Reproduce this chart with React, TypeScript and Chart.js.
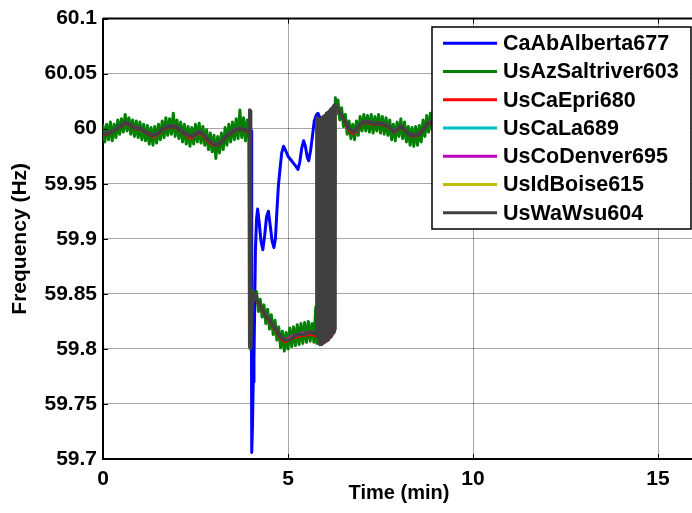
import React, { useEffect, useRef } from "react";
import { Chart, registerables } from "chart.js";

Chart.register(...registerables);

const seriesNames = [
  "CaAbAlberta677",
  "UsAzSaltriver603",
  "UsCaEpri680",
  "UsCaLa689",
  "UsCoDenver695",
  "UsIdBoise615",
  "UsWaWsu604",
];
const seriesColors = ["#0000ff", "#008000", "#ff0000", "#00bfbf", "#bf00bf", "#bfbf00", "#404040"];
const seriesWidths = [3, 3, 2, 2, 2, 2, 3.5];

const xTickValues = [0, 5, 10, 15];
const yTickValues = [59.7, 59.75, 59.8, 59.85, 59.9, 59.95, 60, 60.05, 60.1];
const yTickLabels = ["59.7", "59.75", "59.8", "59.85", "59.9", "59.95", "60", "60.05", "60.1"];

// CaAbAlberta677
const timeAlberta = [
  0, 0.2, 0.4, 0.6, 0.8, 1, 1.2, 1.4, 1.6, 1.8, 2, 2.2, 2.4, 2.6, 2.8, 3, 3.2, 3.4, 3.6, 3.8, 3.95,
  4, 4.02, 4.04, 4.06, 4.08, 4.1, 4.12, 4.15, 4.18, 4.22, 4.27, 4.32, 4.37, 4.42, 4.47, 4.52, 4.57, 4.62, 4.66, 4.7,
  4.74, 4.78, 4.83, 4.88, 4.94, 5, 5.07, 5.14, 5.21, 5.27, 5.32, 5.37, 5.42, 5.47, 5.52, 5.56, 5.61, 5.66, 5.71, 5.76,
  5.81, 5.86, 5.95, 6.05, 6.15, 6.25,
  6.3, 6.45, 6.6, 6.8, 7, 7.3, 7.6, 7.9, 8.2, 8.5, 8.8, 9.2, 10,
];
const albertaFreq = [
  59.996, 59.997, 60.001, 60.005, 60.002, 60.0, 59.996, 59.994, 59.999, 60.002, 60.001, 59.996, 59.993, 59.997, 59.991, 59.986, 59.988, 59.995, 59.999, 59.999, 59.998,
  59.998, 59.706, 59.73, 59.77, 59.79, 59.84, 59.89, 59.918, 59.927, 59.915, 59.898, 59.89, 59.903, 59.92, 59.925, 59.912, 59.898, 59.892, 59.9, 59.925,
  59.948, 59.962, 59.978, 59.984, 59.98, 59.975, 59.972, 59.969, 59.966, 59.963, 59.97, 59.982, 59.989, 59.984, 59.974, 59.971, 59.98, 59.993, 60.007, 60.012,
  60.014, 60.01, 60.01, 60.013, 60.016, 60.02,
  60.02, 60.012, 60.003, 59.997, 60.004, 60.005, 60.004, 59.998, 59.998, 59.994, 60.005, 60.003, 60.0,
];

// UsAzSaltriver603
const timeSaltriver = [
  0, 0.05, 0.1, 0.15, 0.2, 0.25, 0.3, 0.35, 0.4, 0.45, 0.5, 0.55, 0.6, 0.65, 0.7, 0.75, 0.8, 0.85, 0.9, 0.95,
  1, 1.05, 1.1, 1.15, 1.2, 1.25, 1.3, 1.35, 1.4, 1.45, 1.5, 1.55, 1.6, 1.65, 1.7, 1.75, 1.8, 1.85, 1.9, 1.95,
  2, 2.05, 2.1, 2.15, 2.2, 2.25, 2.3, 2.35, 2.4, 2.45, 2.5, 2.55, 2.6, 2.65, 2.7, 2.75, 2.8, 2.85, 2.9, 2.95,
  3, 3.05, 3.1, 3.15, 3.2, 3.25, 3.3, 3.35, 3.4, 3.45, 3.5, 3.55, 3.6, 3.65, 3.7, 3.75, 3.8, 3.85, 3.9, 3.95,
  3.98, 4.02, 4.05,
  4.1, 4.15, 4.2, 4.25, 4.3, 4.35, 4.4, 4.45, 4.5, 4.55, 4.6, 4.65, 4.7, 4.75, 4.8, 4.85, 4.9, 4.95,
  5, 5.05, 5.1, 5.15, 5.2, 5.25, 5.3, 5.35, 5.4, 5.45, 5.5, 5.55, 5.6, 5.65, 5.7, 5.75,
  5.78, 5.85, 6, 6.15, 6.26, 6.28,
  6.3, 6.35, 6.4, 6.45, 6.5, 6.55, 6.6, 6.65, 6.7, 6.75, 6.8, 6.85, 6.9, 6.95,
  7, 7.05, 7.1, 7.15, 7.2, 7.25, 7.3, 7.35, 7.4, 7.45, 7.5, 7.55, 7.6, 7.65, 7.7, 7.75, 7.8, 7.85, 7.9, 7.95,
  8, 8.05, 8.1, 8.15, 8.2, 8.25, 8.3, 8.35, 8.4, 8.45, 8.5, 8.55, 8.6, 8.65, 8.7, 8.75, 8.8, 8.85, 8.9, 8.95, 9,
  9.5, 10,
];
const saltriverFreq = [
  60.003, 59.988, 60.004, 59.99, 60.006, 59.989, 60.004, 59.992, 60.008, 59.995, 60.009, 59.997, 60.013, 59.998, 60.01, 59.995, 60.008, 59.993, 60.007, 59.992,
  60.006, 59.99, 60.004, 59.989, 60.003, 59.986, 60.001, 59.985, 60.002, 59.987, 60.004, 59.99, 60.007, 59.992, 60.01, 59.994, 60.009, 59.995, 60.014, 59.993,
  60.008, 59.991, 60.006, 59.988, 60.004, 59.986, 60.002, 59.984, 60.001, 59.986, 60.004, 59.988, 60.005, 59.987, 60.002, 59.985, 59.999, 59.981, 59.996, 59.979,
  59.994, 59.973, 59.993, 59.978, 59.996, 59.981, 60.001, 59.985, 60.004, 59.988, 60.006, 59.99, 60.009, 59.991, 60.017, 59.992, 60.01, 59.989, 60.008, 59.99,
  59.8, 59.84, 59.853,
  59.845, 59.852, 59.834, 59.845, 59.829, 59.84, 59.823, 59.836, 59.818, 59.831, 59.813, 59.826, 59.808, 59.82, 59.801, 59.816, 59.798, 59.815,
  59.8, 59.819, 59.802, 59.82, 59.803, 59.822, 59.804, 59.823, 59.805, 59.824, 59.806, 59.825, 59.807, 59.823, 59.806, 59.838,
  59.805, 59.806, 59.808, 59.812, 59.816, 60.028,
  60.013, 60.026, 60.008, 60.019, 60.002, 60.013, 59.995, 60.007, 59.991, 60.004, 59.99, 60.007, 59.994, 60.011,
  59.998, 60.013, 59.998, 60.012, 59.997, 60.013, 59.996, 60.011, 59.998, 60.013, 59.996, 60.011, 59.995, 60.01, 59.994, 60.008, 59.99, 60.004, 59.989, 60.006,
  59.993, 60.009, 59.991, 60.006, 59.988, 60.002, 59.985, 60.001, 59.984, 60.002, 59.985, 60.003, 59.988, 60.008, 59.993, 60.012, 59.997, 60.014, 59.999, 60.012, 59.998,
  60.006, 59.996,
];

// shared time base of the smoother stations
const timeSmooth = [
  0, 0.1, 0.2, 0.3, 0.4, 0.5, 0.6, 0.7, 0.8, 0.9, 1, 1.1, 1.2, 1.3, 1.4, 1.5, 1.6, 1.7, 1.8, 1.9,
  2, 2.1, 2.2, 2.3, 2.4, 2.5, 2.6, 2.7, 2.8, 2.9, 3, 3.1, 3.2, 3.3, 3.4, 3.5, 3.6, 3.7, 3.8, 3.9,
  3.96, 3.98, 4.02, 4.06,
  4.1, 4.2, 4.3, 4.4, 4.5, 4.6, 4.7, 4.8, 4.9, 5, 5.1, 5.2, 5.3, 5.4, 5.5, 5.6, 5.7, 5.8,
  5.9, 6, 6.1, 6.2, 6.26,
  6.28, 6.35, 6.45, 6.55, 6.65, 6.75, 6.85, 6.95, 7.05, 7.15, 7.25, 7.35, 7.45, 7.55, 7.65, 7.75, 7.85, 7.95, 8.05, 8.15,
  8.25, 8.35, 8.45, 8.55, 8.65, 8.75, 8.85,
  9, 9.3, 9.6, 10,
];

// UsCaEpri680
const epriFreq = [
  59.995, 59.994, 59.996, 59.998, 60.0, 60.002, 60.004, 60.003, 60.001, 59.999, 59.999, 59.997, 59.995, 59.993, 59.992, 59.995, 59.998, 60.0, 60.001, 60.001,
  60.0, 59.997, 59.995, 59.992, 59.991, 59.994, 59.996, 59.993, 59.989, 59.986, 59.985, 59.984, 59.987, 59.991, 59.994, 59.996, 59.998, 59.999, 59.998, 59.997,
  59.998, 59.801, 59.834, 59.848,
  59.849, 59.84, 59.834, 59.829, 59.824, 59.819, 59.814, 59.809, 59.806, 59.807, 59.809, 59.81, 59.811, 59.812, 59.812, 59.813, 59.812, 59.811,
  59.804, 59.806, 59.808, 59.812, 59.816,
  60.02, 60.017, 60.011, 60.004, 59.998, 59.995, 59.997, 60.003, 60.005, 60.005, 60.004, 60.003, 60.004, 60.003, 60.002, 60.0, 59.996, 59.998, 60.001, 59.998,
  59.994, 59.993, 59.993, 59.994, 59.998, 60.003, 60.005,
  60.004, 60.002, 60.0, 59.999,
];

// UsCaLa689
const laFreq = [
  59.996, 59.995, 59.997, 59.998, 60.001, 60.003, 60.005, 60.004, 60.002, 60.0, 60.0, 59.998, 59.996, 59.994, 59.993, 59.996, 59.999, 60.001, 60.002, 60.002,
  60.001, 59.998, 59.996, 59.994, 59.993, 59.995, 59.997, 59.995, 59.991, 59.988, 59.986, 59.985, 59.988, 59.992, 59.995, 59.997, 59.999, 60.0, 59.999, 59.998,
  59.999, 59.802, 59.835, 59.849,
  59.85, 59.841, 59.836, 59.831, 59.826, 59.821, 59.816, 59.811, 59.808, 59.809, 59.811, 59.812, 59.813, 59.814, 59.814, 59.815, 59.814, 59.813,
  59.806, 59.808, 59.81, 59.814, 59.818,
  60.021, 60.018, 60.012, 60.006, 60.0, 59.997, 59.999, 60.004, 60.006, 60.006, 60.005, 60.004, 60.005, 60.004, 60.003, 60.001, 59.997, 59.999, 60.002, 59.999,
  59.995, 59.994, 59.994, 59.995, 59.999, 60.004, 60.006,
  60.005, 60.002, 60.001, 60.0,
];

// UsCoDenver695
const denverFreq = [
  59.997, 59.996, 59.998, 59.999, 60.002, 60.004, 60.006, 60.005, 60.003, 60.001, 60.001, 59.999, 59.997, 59.995, 59.995, 59.997, 60.0, 60.002, 60.003, 60.003,
  60.002, 59.999, 59.997, 59.995, 59.994, 59.996, 59.998, 59.996, 59.992, 59.989, 59.987, 59.986, 59.989, 59.993, 59.996, 59.998, 60.0, 60.001, 60.0, 59.999,
  60.0, 59.803, 59.836, 59.85,
  59.851, 59.842, 59.837, 59.832, 59.827, 59.822, 59.817, 59.812, 59.809, 59.81, 59.812, 59.813, 59.814, 59.815, 59.815, 59.816, 59.815, 59.814,
  59.807, 59.809, 59.811, 59.815, 59.819,
  60.022, 60.019, 60.013, 60.007, 60.001, 59.998, 60.0, 60.005, 60.007, 60.007, 60.006, 60.005, 60.006, 60.005, 60.004, 60.002, 59.998, 60.0, 60.003, 60.0,
  59.996, 59.995, 59.995, 59.996, 60.0, 60.005, 60.007,
  60.006, 60.003, 60.002, 60.001,
];

// UsIdBoise615
const boiseFreq = [
  59.996, 59.996, 59.997, 59.999, 60.001, 60.003, 60.004, 60.004, 60.002, 60.0, 60.0, 59.998, 59.996, 59.994, 59.994, 59.996, 59.999, 60.001, 60.002, 60.002,
  60.001, 59.998, 59.996, 59.994, 59.993, 59.995, 59.997, 59.995, 59.991, 59.988, 59.986, 59.985, 59.988, 59.992, 59.995, 59.997, 59.999, 60.0, 59.999, 59.998,
  59.999, 59.802, 59.835, 59.849,
  59.85, 59.841, 59.836, 59.831, 59.826, 59.821, 59.816, 59.811, 59.808, 59.809, 59.811, 59.812, 59.813, 59.814, 59.814, 59.815, 59.814, 59.813,
  59.806, 59.808, 59.81, 59.814, 59.818,
  60.021, 60.018, 60.012, 60.006, 60.0, 59.997, 59.999, 60.004, 60.006, 60.006, 60.005, 60.004, 60.005, 60.004, 60.003, 60.001, 59.997, 59.999, 60.002, 59.999,
  59.995, 59.994, 59.994, 59.995, 59.999, 60.004, 60.006,
  60.005, 60.002, 60.001, 60.0,
];

// UsWaWsu604
const timeWsu = [
  0, 0.1, 0.2, 0.3, 0.4, 0.5, 0.6, 0.7, 0.8, 0.9, 1, 1.1, 1.2, 1.3, 1.4, 1.5, 1.6, 1.7, 1.8, 1.9,
  2, 2.1, 2.2, 2.3, 2.4, 2.5, 2.6, 2.7, 2.8, 2.9, 3, 3.1, 3.2, 3.3, 3.4, 3.5, 3.6, 3.7, 3.8, 3.9,
  3.95, 3.96, 3.97, 3.98, 3.99, 4.02, 4.06, 4.09,
  4.2, 4.3, 4.4, 4.5, 4.6, 4.7, 4.8, 4.9, 5, 5.1, 5.2, 5.3, 5.4, 5.5, 5.6, 5.7,
  5.76, 5.78, 5.8,
  5.84, 5.86, 5.88, 5.9, 5.92, 5.94, 5.96, 5.98, 6, 6.02, 6.04, 6.06, 6.08, 6.1, 6.12, 6.14, 6.16, 6.18, 6.2, 6.22, 6.24, 6.26, 6.27,
  6.28, 6.35, 6.45, 6.55, 6.65, 6.75, 6.85, 6.95, 7.05, 7.15, 7.25, 7.35, 7.45, 7.55, 7.65, 7.75, 7.85, 7.95, 8.05, 8.15,
  8.25, 8.35, 8.45, 8.55, 8.65, 8.75, 8.85,
  9, 9.3, 9.6, 10,
];
const wsuFreq = [
  59.996, 59.995, 59.997, 59.998, 60.001, 60.003, 60.005, 60.004, 60.002, 60.0, 60.0, 59.998, 59.996, 59.994, 59.994, 59.996, 59.999, 60.001, 60.002, 60.002,
  60.001, 59.998, 59.996, 59.994, 59.993, 59.995, 59.997, 59.995, 59.991, 59.988, 59.986, 59.985, 59.988, 59.992, 59.995, 59.997, 59.999, 60.0, 59.999, 59.998,
  59.999, 60.017, 59.802, 60.016, 59.801, 59.832, 59.848, 59.851,
  59.842, 59.836, 59.83, 59.826, 59.821, 59.816, 59.811, 59.808, 59.808, 59.81, 59.812, 59.813, 59.813, 59.814, 59.815, 59.814,
  59.814, 60.01, 59.811,
  60.008, 59.804, 60.009, 59.804, 60.01, 59.805, 60.011, 59.806, 60.012, 59.807, 60.014, 59.808, 60.015, 59.81, 60.016, 59.811, 60.018, 59.813, 60.019, 59.815, 60.021, 59.818, 60.022,
  60.021, 60.018, 60.012, 60.006, 60.0, 59.997, 59.999, 60.004, 60.006, 60.006, 60.005, 60.004, 60.005, 60.004, 60.003, 60.001, 59.997, 59.999, 60.002, 59.999,
  59.995, 59.994, 59.994, 59.995, 59.999, 60.004, 60.006,
  60.005, 60.002, 60.001, 60.0,
];

const seriesTimes = [timeAlberta, timeSaltriver, timeSmooth, timeSmooth, timeSmooth, timeSmooth, timeWsu];
const seriesValues = [albertaFreq, saltriverFreq, epriFreq, laFreq, denverFreq, boiseFreq, wsuFreq];

const FONT = "Arial, 'Liberation Sans', Helvetica, sans-serif";

function zip(t: number[], v: number[]) {
  const n = Math.min(t.length, v.length);
  const out: { x: number; y: number }[] = [];
  for (let i = 0; i < n; i++) out.push({ x: t[i], y: v[i] });
  return out;
}

const framePlugin = {
  id: "frameAndLegend",
  afterDraw(chart: any) {
    const { ctx, chartArea, scales } = chart;
    ctx.save();
    // top border of the axes box
    ctx.strokeStyle = "#000";
    ctx.lineWidth = 2;
    ctx.beginPath();
    ctx.moveTo(chartArea.left, chartArea.top);
    ctx.lineTo(chartArea.right, chartArea.top);
    ctx.stroke();

    // small inward tick marks
    ctx.lineWidth = 1;
    ctx.beginPath();
    xTickValues.forEach((v) => {
      const px = Math.round(scales.x.getPixelForValue(v)) + 0.5;
      ctx.moveTo(px, chartArea.top);
      ctx.lineTo(px, chartArea.top + 5);
      ctx.moveTo(px, chartArea.bottom);
      ctx.lineTo(px, chartArea.bottom - 5);
    });
    yTickValues.forEach((v) => {
      const py = Math.round(scales.y.getPixelForValue(v)) + 0.5;
      ctx.moveTo(chartArea.left, py);
      ctx.lineTo(chartArea.left + 5, py);
    });
    ctx.stroke();

    // legend box
    const left = 432, top = 27, right = 691, bottom = 229;
    ctx.fillStyle = "#ffffff";
    ctx.fillRect(left, top, right - left, bottom - top);
    ctx.lineWidth = 1.5;
    ctx.strokeStyle = "#000";
    ctx.strokeRect(left, top, right - left, bottom - top);
    ctx.font = `bold 21.5px ${FONT}`;
    ctx.textBaseline = "middle";
    ctx.textAlign = "left";
    chart.data.datasets.forEach((ds: any, i: number) => {
      const y = 43.3 + i * 28.25;
      ctx.strokeStyle = ds.borderColor;
      ctx.lineWidth = 3;
      ctx.beginPath();
      ctx.moveTo(443, y);
      ctx.lineTo(497, y);
      ctx.stroke();
      ctx.fillStyle = "#000";
      ctx.fillText(ds.label, 503, y + 1);
    });
    ctx.restore();
  },
};

export default function App() {
  const canvasRef = useRef<HTMLCanvasElement | null>(null);

  useEffect(() => {
    if (!canvasRef.current) return;
    const datasets = seriesNames.map((name, i) => ({
      label: name,
      data: zip(seriesTimes[i], seriesValues[i]),
      borderColor: seriesColors[i],
      backgroundColor: seriesColors[i],
      borderWidth: seriesWidths[i],
      pointRadius: 0,
      tension: 0,
      fill: false,
      borderJoinStyle: "round" as const,
      borderCapStyle: "round" as const,
      order: seriesNames.length - i,
    }));

    const chart = new Chart(canvasRef.current, {
      type: "line",
      data: { datasets },
      options: {
        animation: false,
        responsive: false,
        parsing: false as any,
        layout: { padding: { top: 18, right: 5, left: 0, bottom: 0 } },
        plugins: { legend: { display: false }, tooltip: { enabled: false } },
        scales: {
          x: {
            type: "linear",
            min: 0,
            max: 16,
            afterBuildTicks: (scale: any) => {
              scale.ticks = xTickValues.map((v) => ({ value: v }));
            },
            afterFit: (scale: any) => {
              scale.height = 54;
            },
            ticks: {
              color: "#000",
              padding: 8,
              maxRotation: 0,
              font: { family: FONT, size: 21, weight: "bold" },
              callback: (v: any) => String(v),
            },
            grid: { color: "rgba(0,0,0,0.35)", lineWidth: 1, drawTicks: false },
            border: { display: true, color: "#000", width: 2 },
            title: {
              display: true,
              text: "Time (min)",
              color: "#000",
              font: { family: FONT, size: 20, weight: "bold" },
              padding: { top: 0, bottom: 8 },
            },
          },
          y: {
            type: "linear",
            min: 59.7,
            max: 60.1,
            afterBuildTicks: (scale: any) => {
              scale.ticks = yTickValues.map((v) => ({ value: v }));
            },
            afterFit: (scale: any) => {
              scale.width = 103;
            },
            ticks: {
              color: "#000",
              padding: 6,
              font: { family: FONT, size: 21, weight: "bold" },
              callback: (v: any) => {
                const idx = yTickValues.findIndex((t) => Math.abs(t - Number(v)) < 1e-6);
                return idx >= 0 ? yTickLabels[idx] : "";
              },
            },
            grid: { color: "rgba(0,0,0,0.35)", lineWidth: 1, drawTicks: false },
            border: { display: true, color: "#000", width: 2 },
            title: {
              display: true,
              text: "Frequency (Hz)",
              color: "#000",
              font: { family: FONT, size: 21, weight: "bold" },
              padding: { top: 8, bottom: 0 },
            },
          },
        },
      },
      plugins: [framePlugin],
    });
    return () => chart.destroy();
  }, []);

  return (
    <div
      style={{
        position: "absolute",
        left: 0,
        top: 0,
        width: 692,
        height: 513,
        overflow: "hidden",
        background: "#fff",
      }}
    >
      <canvas ref={canvasRef} width={700} height={513} style={{ display: "block" }} />
    </div>
  );
}
